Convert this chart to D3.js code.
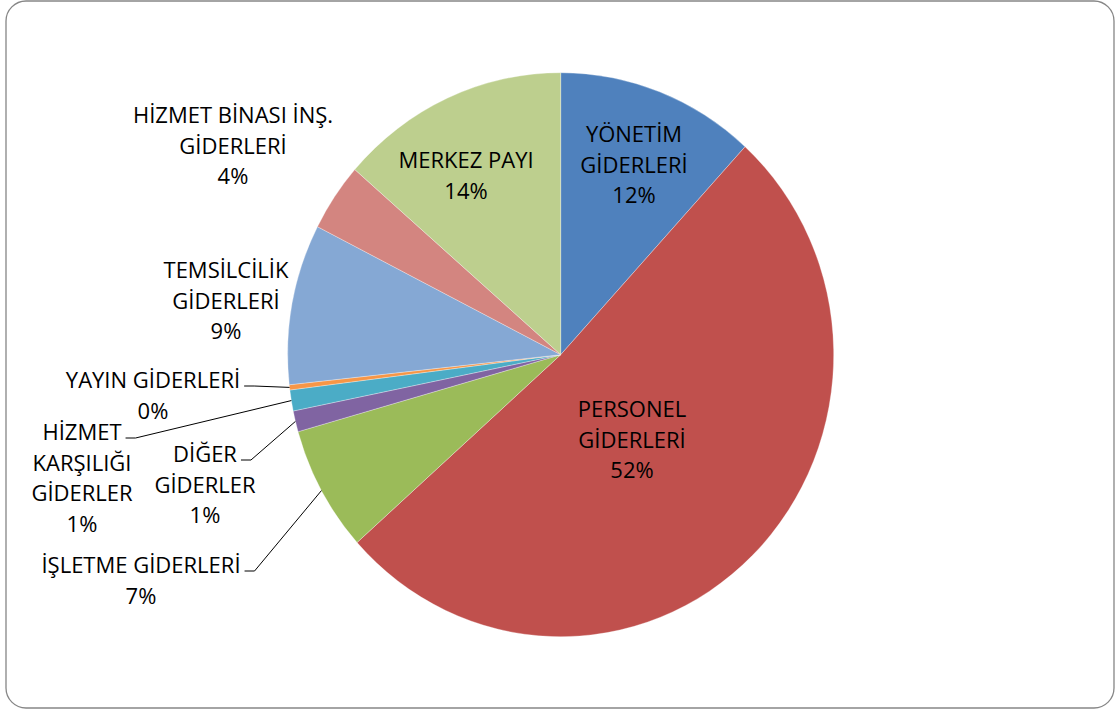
<!DOCTYPE html>
<html>
<head>
<meta charset="utf-8">
<script src="https://cdn.jsdelivr.net/npm/d3@7"></script>
<style>
  html, body { margin: 0; padding: 0; background: #fff; }
  svg { display: block; }
  text { font-family: "Open Sans", "Noto Sans", sans-serif; font-size: 22px; fill: #000; }
</style>
</head>
<body>
<svg id="chart" width="1115" height="709"></svg>
<script>
// Expense categories, clockwise from 12 o'clock
const categories = [
  "YÖNETİM GİDERLERİ",
  "PERSONEL GİDERLERİ",
  "İŞLETME GİDERLERİ",
  "DİĞER GİDERLER",
  "HİZMET KARŞILIĞI GİDERLER",
  "YAYIN GİDERLERİ",
  "TEMSİLCİLİK GİDERLERİ",
  "HİZMET BİNASI İNŞ. GİDERLERİ",
  "MERKEZ PAYI"
];
// Share of total spending (%)
const shares = [11.8, 51.6, 7.2, 1.2, 1.2, 0.3, 9.2, 3.9, 13.6];
// How each category name wraps in its label
const labelLines = [
  ["YÖNETİM", "GİDERLERİ"],
  ["PERSONEL", "GİDERLERİ"],
  ["İŞLETME GİDERLERİ"],
  ["DİĞER", "GİDERLER"],
  ["HİZMET", "KARŞILIĞI", "GİDERLER"],
  ["YAYIN GİDERLERİ"],
  ["TEMSİLCİLİK", "GİDERLERİ"],
  ["HİZMET BİNASI İNŞ.", "GİDERLERİ"],
  ["MERKEZ PAYI"]
];
const colors = ["#4F81BD", "#C0504D", "#9BBB59", "#8064A2", "#4BACC6", "#F79646", "#85A8D4", "#D38580", "#BDCF8E"];

// Label placement: centre x, first baseline y, and whether a leader line is drawn
const labelLayout = [
  { x: 634, y: 142, leader: false },
  { x: 632, y: 417, leader: false },
  { x: 141, y: 573, leader: true },
  { x: 205, y: 462, leader: true },
  { x: 82,  y: 440, leader: true },
  { x: 153, y: 388, leader: true },
  { x: 226, y: 278, leader: false },
  { x: 233, y: 123, leader: false },
  { x: 466, y: 168, leader: false }
];

const svg = d3.select("#chart");
const cx = 560.7, cy = 354.7, r = 273, sy = 282 / 273;
const lineH = 30.5;

// chart frame
svg.append("rect")
  .attr("x", 6).attr("y", 1)
  .attr("width", 1108).attr("height", 707)
  .attr("rx", 20).attr("ry", 20)
  .attr("fill", "#fff")
  .attr("stroke", "#868686").attr("stroke-width", 1.3);

const data = categories.map((c, i) => ({ name: c, value: shares[i], lines: labelLines[i], color: colors[i], layout: labelLayout[i] }));
const total = d3.sum(shares);
const pct = d3.format(".0%");

const pie = d3.pie().sort(null).value(d => d.value).startAngle(0).endAngle(2 * Math.PI);
const arcs = pie(data);
const arc = d3.arc().innerRadius(0).outerRadius(r);

const g = svg.append("g").attr("transform", `translate(${cx},${cy}) scale(1,${sy})`);
g.selectAll("path")
  .data(arcs)
  .join("path")
  .attr("d", arc)
  .attr("fill", d => d.data.color)
  .attr("stroke", "#fff")
  .attr("stroke-opacity", 0.5)
  .attr("stroke-width", 0.6);

// labels
const labels = svg.append("g");
arcs.forEach(a => {
  const d = a.data;
  const t = labels.append("text").attr("text-anchor", "middle");
  const rows = d.lines.concat([pct(d.value / total)]);
  rows.forEach((s, k) => {
    t.append("tspan").attr("x", d.layout.x).attr("y", d.layout.y + k * lineH).text(s);
  });
  if (d.layout.leader) {
    const first = t.select("tspan").node();
    const w = first.getComputedTextLength();
    const x0 = d.layout.x + w / 2 + 4;
    const y0 = d.layout.y - 2;
    const mid = (a.startAngle + a.endAngle) / 2;
    const ex = cx + r * Math.sin(mid);
    const ey = cy - r * Math.cos(mid) * sy;
    svg.append("polyline")
      .attr("points", [[x0, y0], [x0 + 10, y0], [ex, ey]].map(p => p.join(",")).join(" "))
      .attr("fill", "none")
      .attr("stroke", "#000")
      .attr("stroke-width", 1);
  }
});
</script>
</body>
</html>
